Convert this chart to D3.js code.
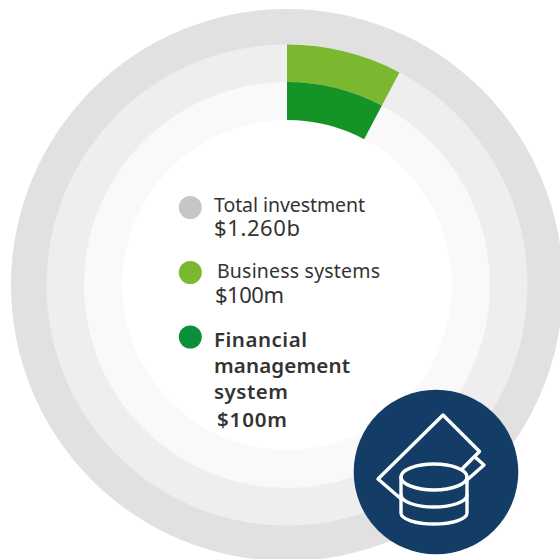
<!DOCTYPE html>
<html lang="en">
  <head>
    <title>Investment rings</title>
    <script src="https://d3js.org/d3.v7.min.js"></script>
    <style>
      html, body { margin: 0; padding: 0; background: #fff; }
      svg { display: block; }
      text { font-family: "Noto Sans", sans-serif; fill: #333; font-size: 19.5px; }
      text.money { font-size: 22px; }
      text.bold { font-weight: 600; font-size: 20.5px; }
    </style>
  </head>
  <body>
    <svg width="560" height="559"></svg>

    <script>
      var ringNames = ["Total investment", "Business systems", "Financial management system"];
      var ringValues = [1260, 100, 100];
      var wedgeNames = ["Business systems", "Financial management system"];
      // share of the full circle the green wedge sweeps
      var wedgeShares = [0.0774, 0.0774];
      var legendColors = ["#c6c6c6", "#7ab92f", "#0a9038"];
      var wedgeColors = ["#7ab92f", "#149426"];
      var ringColors = ["#e1e1e1", "#eeeeee", "#f9f9f9", "#ffffff"];

      var svg = d3.select("svg");
      var cx = 287, cy = 285;
      var g = svg.append("g").attr("transform", "translate(" + cx + "," + cy + ")");

      // ring index -> radius
      var radius = d3.scaleLinear().domain([0, 1, 2, 3]).range([276, 240.5, 203, 165]);
      var angle = d3.scaleLinear().domain([0, 1]).range([0, 2 * Math.PI]);

      g.selectAll("circle.ring").data(ringColors).enter().append("circle")
        .attr("class", "ring")
        .attr("r", function(d, i) { return radius(i); })
        .attr("fill", function(d) { return d; });

      var arc = d3.arc()
        .startAngle(0)
        .endAngle(function(d) { return angle(d.share); })
        .innerRadius(function(d) { return radius(d.ring + 1); })
        .outerRadius(function(d) { return radius(d.ring); });

      g.selectAll("path.wedge")
        .data(wedgeNames.map(function(n, i) { return { name: n, share: wedgeShares[i], ring: i + 1 }; }))
        .enter().append("path")
        .attr("class", "wedge")
        .attr("d", arc)
        .attr("fill", function(d, i) { return wedgeColors[i]; });

      // legend
      var dotY = [207.5, 272.5, 337];
      svg.selectAll("circle.key").data(legendColors).enter().append("circle")
        .attr("class", "key")
        .attr("cx", 190.3)
        .attr("cy", function(d, i) { return dotY[i]; })
        .attr("r", 11.5)
        .attr("fill", function(d) { return d; });

      function amount(v) { return v >= 1000 ? "$" + d3.format(".3f")(v / 1000) + "b" : "$" + v + "m"; }

      // stretch each line to the width it has in the picture
      var labels = [
        { t: ringNames[0], x: 214, y: 212, w: 151 },
        { t: amount(ringValues[0]), x: 214, y: 236, w: 86, c: "money" },
        { t: ringNames[1], x: 217, y: 278, w: 163 },
        { t: amount(ringValues[1]), x: 215, y: 303, w: 69, c: "money" },
        { t: "Financial", x: 214, y: 347, w: 93, c: "bold" },
        { t: "management", x: 214, y: 373, w: 136, c: "bold" },
        { t: "system", x: 214, y: 399, w: 74, c: "bold" },
        { t: amount(ringValues[2]), x: 217, y: 427, w: 70, c: "bold" }
      ];
      svg.selectAll("text").data(labels).enter().append("text")
        .attr("class", function(d) { return d.c || null; })
        .attr("x", function(d) { return d.x; })
        .attr("y", function(d) { return d.y; })
        .attr("textLength", function(d) { return d.w; })
        .attr("lengthAdjust", "spacing")
        .text(function(d) { return d.t; });

      // badge with the icon
      var badge = svg.append("g").attr("transform", "translate(436,472)");
      badge.append("circle").attr("r", 82.3).attr("fill", "#133d66");
      var icon = badge.append("g")
        .attr("fill", "none")
        .attr("stroke", "#fff")
        .attr("stroke-width", 3.4)
        .attr("stroke-linejoin", "round")
        .attr("stroke-linecap", "round");
      icon.append("path").attr("d", "M-36,26 L-58,7 L7,-57 L43.5,-20.5 L27,-4");
      icon.append("path").attr("d", "M39,-15 L48,-7 L31,8");
      icon.append("ellipse").attr("cx", -2).attr("cy", 5).attr("rx", 33).attr("ry", 13);
      icon.append("path").attr("d", "M-35,5 L-35,41 A33,11 0 0 0 31,41 L31,5");
      icon.append("path").attr("d", "M-35,23 A33,12 0 0 0 31,23");
    </script>
  </body>
</html>
